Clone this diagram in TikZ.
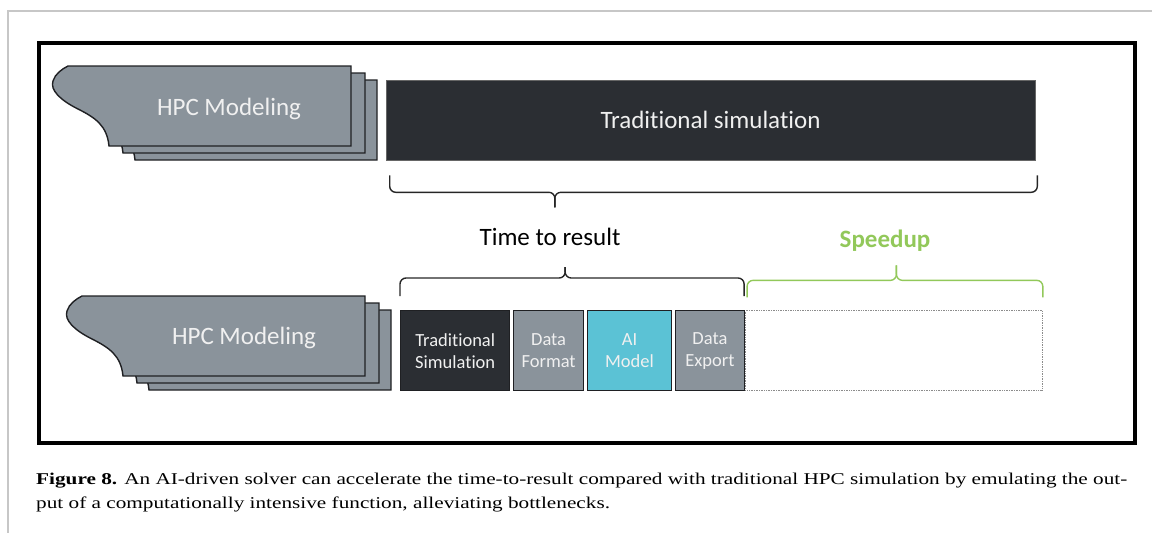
\documentclass[tikz,border=0pt]{standalone}
\usepackage{fontspec}
\setmainfont{Carlito}[Ligatures=NoCommon]
\newfontfamily\capfont{Liberation Serif}
\usetikzlibrary{positioning,calc}

\definecolor{hpcgray}{HTML}{8A939B}
\definecolor{bardark}{HTML}{2B2E33}
\definecolor{aicyan}{HTML}{5BC2D5}
\definecolor{speedgreen}{HTML}{92C85A}
\definecolor{edgedark}{HTML}{1F2023}

\tikzset{
  hpc/.style={fill=hpcgray, draw=edgedark, line width=1.4pt, line join=miter},
  hpclabel/.style={text=white!94!black, font=\fontsize{25}{30}\selectfont, anchor=base, inner sep=0pt},
  bigbar/.style={fill=bardark, draw=black!60, line width=0.6pt, minimum width=649pt, minimum height=80pt,
    text=white!94!black, font=\fontsize{25}{30}\selectfont},
  stage/.style={draw=edgedark, line width=1.4pt, minimum height=80pt, inner sep=0pt, align=center,
    text=white!94!black, font=\fontsize{18.5}{22}\selectfont},
  gain/.style={draw=black!45, densely dotted, line width=0.7pt, minimum height=80pt, minimum width=297pt, inner sep=0pt},
  bracepath/.style={line width=1.4pt, draw=black!85, rounded corners=6pt},
  bracetext/.style={font=\fontsize{25}{30}\selectfont, anchor=base, inner sep=0pt}
}

% one layer of the HPC stack, (#1,#2) is its top left corner
\newcommand{\hpcshape}[2]{%
  \filldraw[hpc, shift={(#1,#2)}] (0,0) -- (283,0) -- (283,80) -- (41,80)
    .. controls (39,60) and (28,52) .. (10,43)
    .. controls (-8,34) and (-18,24) .. (-15,15)
    .. controls (-13,8) and (-6,3) .. (0,0) -- cycle;}

\begin{document}
\begin{tikzpicture}[x=1pt, y=-1pt]
    \useasboundingbox (0,0) rectangle (1152,533);
    % page edge and frame
    \draw[black!22, line width=1.2pt] (8,533) -- (8,11) -- (1152,11);
    \draw[line width=4pt] (38.5,43) rectangle (1135,442.5);

    % HPC stacks
    \foreach \dx/\dy in {26/14, 14/7, 0/0}{
      \hpcshape{68+\dx}{66+\dy}
      \hpcshape{82+\dx}{296+\dy}
    }
    \node[hpclabel] (hpctop) at (229,115) {HPC Modeling};
    \node[hpclabel] (hpcbot) at (244,344) {HPC Modeling};

    % traditional run
    \node[bigbar] (trad) at (710.5,120) {Traditional simulation};

    % AI-driven run
    \node[stage, fill=bardark, minimum width=109pt, anchor=north west] (simu) at (400,310) {Traditional\\Simulation};
    \node[stage, fill=hpcgray, minimum width=70pt, right=2.5pt of simu] (dfmt) {Data\\Format};
    \node[stage, fill=aicyan, minimum width=84pt, right=2.5pt of dfmt] (aimod) {AI\\Model};
    \node[stage, fill=hpcgray, minimum width=69pt, right=2.5pt of aimod] (dexp) {Data\\Export};
    \node[gain, right=0pt of dexp] (saved) {};

    % braces
    \coordinate (tl) at ([shift={(4,15)}]trad.south west);
    \coordinate (tr) at ([shift={(2,15)}]trad.south east);
    \coordinate (tt) at ($(tl)!0.255!(tr)+(0,32)$);
    \draw[bracepath] (tl) -- ++(0,17) -| (tt);
    \draw[bracepath] (tr) -- ++(0,17) -| (tt);

    \coordinate (bl) at ([shift={(0,-14)}]simu.north west);
    \coordinate (br) at ([shift={(-1,-14)}]dexp.north east);
    \coordinate (bt) at ($(bl)!0.48!(br)+(0,-29)$);
    \draw[bracepath] (bl) -- ++(0,-18) -| (bt);
    \draw[bracepath] (br) -- ++(0,-18) -| (bt);

    \coordinate (gl) at ([shift={(2,-13)}]saved.north west);
    \coordinate (gr) at ([shift={(0,-13)}]saved.north east);
    \coordinate (gt) at ($(gl)!0.505!(gr)+(0,-32)$);
    \draw[bracepath, draw=speedgreen] (gl) -- ++(0,-17) -| (gt);
    \draw[bracepath, draw=speedgreen] (gr) -- ++(0,-17) -| (gt);

    \node[bracetext] (ttr) at (550,245) {Time to result};
    \node[bracetext, text=speedgreen] (spd) at (885,247) {\textbf{Speedup}};

    % caption
    \node[anchor=base west, inner sep=0pt] (caption) at (36,484)
      {\resizebox{1091pt}{\height}{\capfont\fontsize{16.5}{24}\selectfont
       \begin{tabular}[t]{@{}l@{}}
       \textbf{Figure 8.} An AI-driven solver can accelerate the time-to-result compared with traditional HPC simulation by emulating the out-\\
       put of a computationally intensive function, alleviating bottlenecks.
       \end{tabular}}};
\end{tikzpicture}
\end{document}
